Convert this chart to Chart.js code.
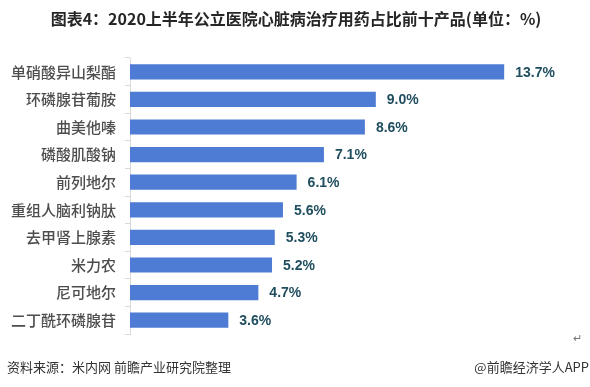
<!DOCTYPE html>
<html lang="zh">
<head>
<meta charset="UTF-8" />
<title>公立医院心脏病治疗用药占比前十产品</title>
<style>
  html, body { margin: 0; padding: 0; background: #fff; }
  #wrapper { position: relative; width: 590px; height: 387px; }
</style>
</head>
<body>
<div id="wrapper">
  <canvas id="chart"></canvas>
</div>
<script src="https://cdn.jsdelivr.net/npm/chart.js@4/dist/chart.umd.min.js"></script>
<script>
  const titleText = "图表4：2020上半年公立医院心脏病治疗用药占比前十产品(单位：%)";
  const sourceText = "资料来源：米内网 前瞻产业研究院整理";
  const brandText = "@前瞻经济学人APP";

  const products = ["单硝酸异山梨酯", "环磷腺苷葡胺", "曲美他嗪", "磷酸肌酸钠", "前列地尔",
                    "重组人脑利钠肽", "去甲肾上腺素", "米力农", "尼可地尔", "二丁酰环磷腺苷"];
  const shares = [13.7, 9.0, 8.6, 7.1, 6.1, 5.6, 5.3, 5.2, 4.7, 3.6];

  const cjk = '"Noto Sans CJK SC", "Microsoft YaHei", sans-serif';

  // value labels, title and footer text
  const extras = {
    id: "extras",
    afterDatasetsDraw(chart) {
      const ctx = chart.ctx;
      const meta = chart.getDatasetMeta(0);
      ctx.save();
      ctx.font = 'bold 14px "Liberation Sans", Arial, sans-serif';
      ctx.fillStyle = "#1F4E5F";
      ctx.textAlign = "left";
      ctx.textBaseline = "middle";
      meta.data.forEach((bar, i) => {
        ctx.fillText(shares[i].toFixed(1) + "%", bar.x + 11, bar.y + 1);
      });
      ctx.restore();
    },
    afterDraw(chart) {
      const ctx = chart.ctx;
      ctx.save();
      ctx.textBaseline = "middle";
      ctx.font = "bold 16px " + cjk;
      ctx.fillStyle = "#262626";
      ctx.textAlign = "center";
      ctx.fillText(titleText, 296, 19);

      ctx.font = "13px " + cjk;
      ctx.fillStyle = "#333";
      ctx.textAlign = "left";
      ctx.fillText(sourceText, 7, 367);
      ctx.textAlign = "right";
      ctx.fillText(brandText, 589, 367);

      ctx.font = "11px " + cjk;
      ctx.fillStyle = "#777";
      ctx.fillText("↵", 582, 338);
      ctx.restore();
    }
  };

  new Chart("chart", {
    type: "bar",
    data: {
      labels: products,
      datasets: [{
        data: shares,
        backgroundColor: "#4E7BD3",
        categoryPercentage: 0.55,
        barPercentage: 1.0
      }]
    },
    options: {
      indexAxis: "y",
      responsive: true,
      maintainAspectRatio: false,
      animation: false,
      layout: { padding: { left: 0, right: 23, top: 58, bottom: 53 } },
      plugins: {
        legend: { display: false },
        tooltip: { enabled: false }
      },
      scales: {
        x: {
          display: false,
          min: 0,
          max: 16
        },
        y: {
          afterFit(scale) { scale.width = 130; },
          grid: {
            offset: true,
            drawOnChartArea: false,
            drawTicks: true,
            tickLength: 5,
            color: "#D9D9D9"
          },
          border: { display: true, color: "#D9D9D9" },
          ticks: {
            padding: 9,
            color: "#4D4D4D",
            font: { size: 15, weight: "500", family: cjk }
          }
        }
      }
    },
    plugins: [extras]
  });
</script>
</body>
</html>
